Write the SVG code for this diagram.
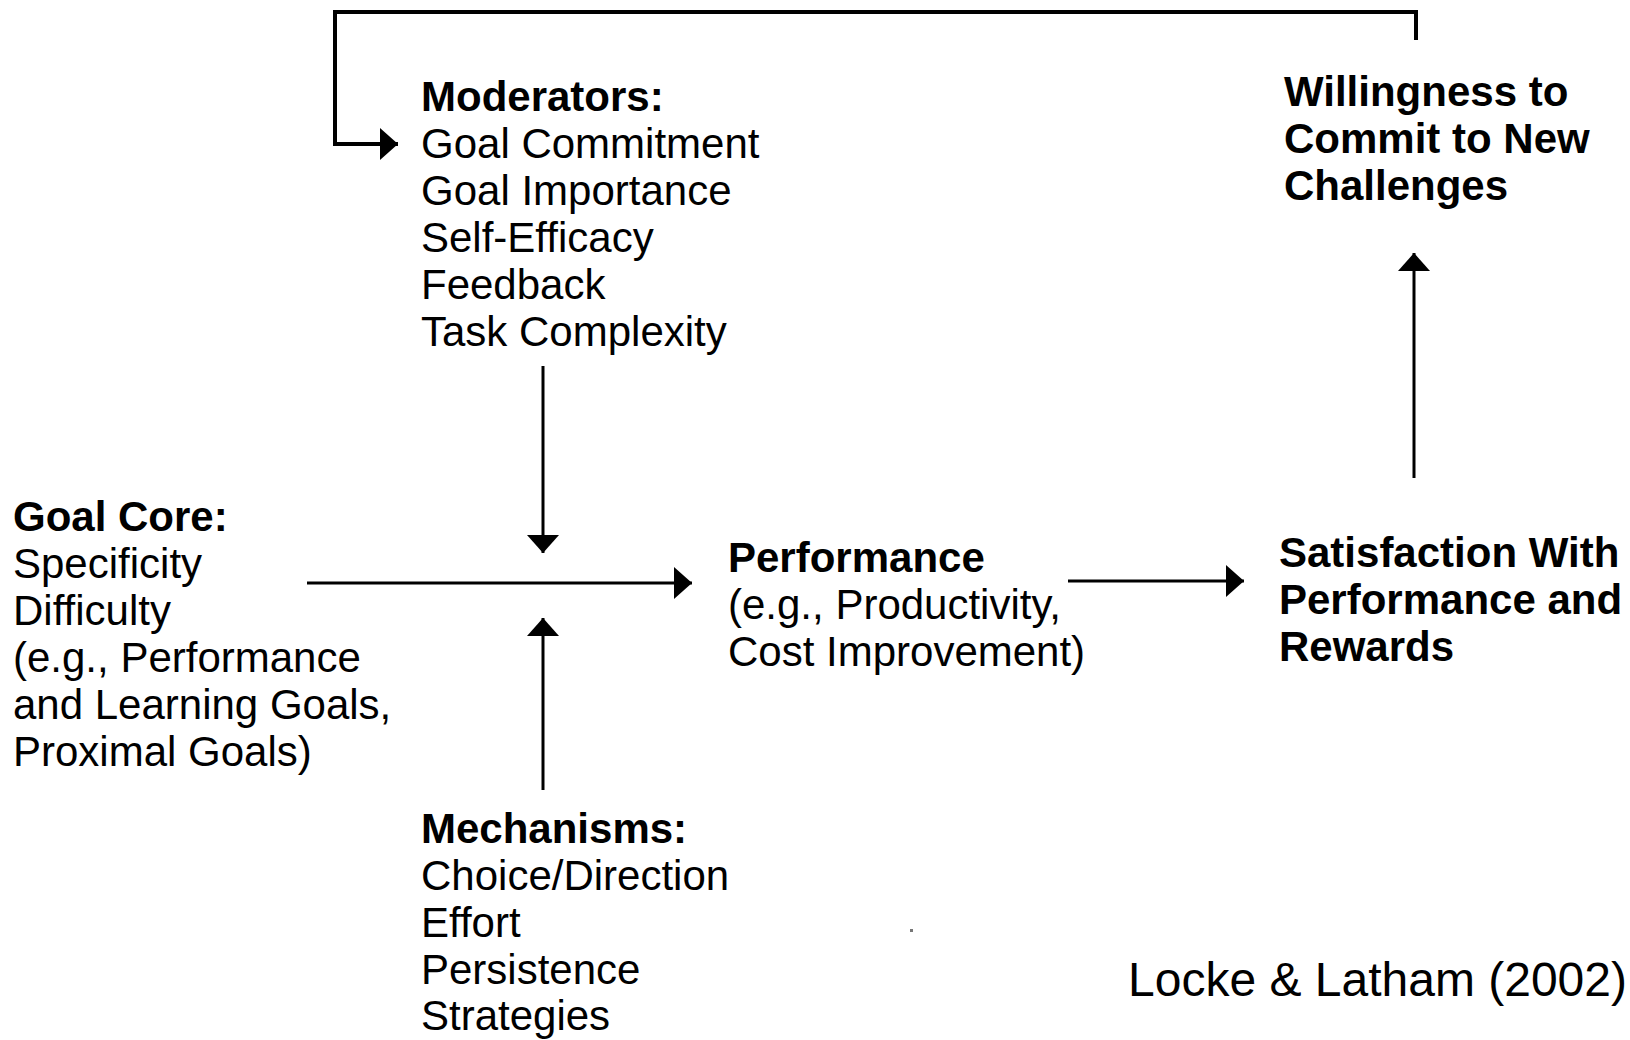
<svg xmlns="http://www.w3.org/2000/svg" width="1630" height="1040" viewBox="0 0 1630 1040">
<style>
text{font-family:"Liberation Sans",Arial,Helvetica,sans-serif;fill:#000;font-size:42px}
.b{font-weight:bold}
.cite{font-size:48px}
.conn{fill:none;stroke:#000;stroke-width:3}
.fb{stroke-width:4}
</style>
<defs>
<marker id="ah" markerUnits="userSpaceOnUse" markerWidth="20" markerHeight="34" refX="18" refY="16" orient="auto">
<path d="M0,0 L18,16 L0,32 Z" fill="#000"/>
</marker>
</defs>
<rect width="1630" height="1040" fill="#fff"/>
<g id="connectors">
<path class="conn fb" d="M1416,40 V12 H335 V144 H398" marker-end="url(#ah)"/>
<path class="conn" d="M543,366 V553" marker-end="url(#ah)"/>
<path class="conn" d="M543,790 V618" marker-end="url(#ah)"/>
<path class="conn" d="M307,583 H692" marker-end="url(#ah)"/>
<path class="conn" d="M1068,581 H1244" marker-end="url(#ah)"/>
<path class="conn" d="M1414,478 V253" marker-end="url(#ah)"/>
</g>
<g id="moderators">
<text class="b" x="421" y="111">Moderators:</text>
<text x="421" y="158">Goal Commitment</text>
<text x="421" y="205">Goal Importance</text>
<text x="421" y="252">Self-Efficacy</text>
<text x="421" y="299">Feedback</text>
<text x="421" y="346">Task Complexity</text>
</g>
<g id="willingness">
<text class="b" x="1284" y="106">Willingness to</text>
<text class="b" x="1284" y="153">Commit to New</text>
<text class="b" x="1284" y="200">Challenges</text>
</g>
<g id="goal-core">
<text class="b" x="13" y="531">Goal Core:</text>
<text x="13" y="578">Specificity</text>
<text x="13" y="625">Difficulty</text>
<text x="13" y="672">(e.g.,  Performance</text>
<text x="13" y="719">and Learning Goals,</text>
<text x="13" y="766">Proximal Goals)</text>
</g>
<g id="performance">
<text class="b" x="728" y="572">Performance</text>
<text x="728" y="619">(e.g., Productivity,</text>
<text x="728" y="666">Cost Improvement)</text>
</g>
<g id="satisfaction">
<text class="b" x="1279" y="567">Satisfaction With</text>
<text class="b" x="1279" y="614">Performance and</text>
<text class="b" x="1279" y="661">Rewards</text>
</g>
<g id="mechanisms">
<text class="b" x="421" y="843">Mechanisms:</text>
<text x="421" y="890">Choice/Direction</text>
<text x="421" y="937">Effort</text>
<text x="421" y="984">Persistence</text>
<text x="421" y="1030">Strategies</text>
</g>
<g id="citation">
<text class="cite" x="1128" y="996">Locke &amp; Latham (2002)</text>
</g>
<rect x="910" y="929" width="3" height="3" fill="#777"/>
</svg>
